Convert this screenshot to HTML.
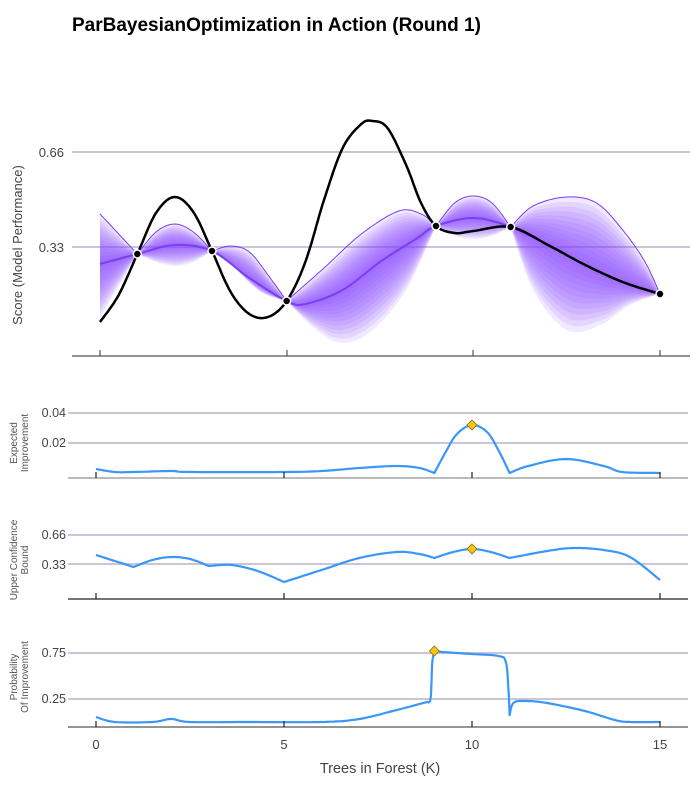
<!DOCTYPE html>
<html><head><meta charset="utf-8"><style>
body{margin:0;background:#fff;}
svg{display:block;font-family:"Liberation Sans",sans-serif;}
</style></head><body>
<svg id="s" width="700" height="789" viewBox="0 0 700 789" xmlns="http://www.w3.org/2000/svg">
<text x="72" y="31" font-size="19" font-weight="bold" fill="#000">ParBayesianOptimization in Action (Round 1)</text>
<line x1="72" x2="690" y1="152" y2="152" stroke="#c8c6d8" stroke-width="2"/>
<line x1="72" x2="690" y1="247" y2="247" stroke="#c8c6d8" stroke-width="2"/>
<text x="64" y="157" font-size="13" fill="#444" text-anchor="end">0.66</text>
<text x="64" y="252" font-size="13" fill="#444" text-anchor="end">0.33</text>
<text transform="translate(22,245) rotate(-90)" font-size="13" fill="#444" text-anchor="middle">Score (Model Performance)</text>
<g id="topg"></g>
<line x1="72" x2="690" y1="356" y2="356" stroke="#555" stroke-width="1.2"/>
<line x1="100" x2="100" y1="350" y2="356" stroke="#333"/>
<line x1="287" x2="287" y1="350" y2="356" stroke="#333"/>
<line x1="473" x2="473" y1="350" y2="356" stroke="#333"/>
<line x1="660" x2="660" y1="350" y2="356" stroke="#333"/>
<line x1="68" x2="688" y1="413" y2="413" stroke="#c8c6d8" stroke-width="2"/>
<line x1="68" x2="688" y1="443" y2="443" stroke="#c8c6d8" stroke-width="2"/>
<line x1="68" x2="688" y1="478" y2="478" stroke="#bbb" stroke-width="2"/>
<text x="66" y="417" font-size="12.5" fill="#444" text-anchor="end">0.04</text>
<text x="66" y="447" font-size="12.5" fill="#444" text-anchor="end">0.02</text>
<text transform="translate(17,443) rotate(-90)" font-size="10" fill="#555" text-anchor="middle">Expected</text>
<text transform="translate(28,443) rotate(-90)" font-size="10" fill="#555" text-anchor="middle">Improvement</text>
<line x1="68" x2="688" y1="535" y2="535" stroke="#c8c6d8" stroke-width="2"/>
<line x1="68" x2="688" y1="564" y2="564" stroke="#c8c6d8" stroke-width="2"/>
<line x1="68" x2="688" y1="599" y2="599" stroke="#222" stroke-width="1.2"/>
<text x="66" y="539" font-size="12.5" fill="#444" text-anchor="end">0.66</text>
<text x="66" y="569" font-size="12.5" fill="#444" text-anchor="end">0.33</text>
<text transform="translate(17,560) rotate(-90)" font-size="10" fill="#555" text-anchor="middle">Upper Confidence</text>
<text transform="translate(28,560) rotate(-90)" font-size="10" fill="#555" text-anchor="middle">Bound</text>
<line x1="68" x2="688" y1="653" y2="653" stroke="#c8c6d8" stroke-width="2"/>
<line x1="68" x2="688" y1="699" y2="699" stroke="#c8c6d8" stroke-width="2"/>
<line x1="68" x2="688" y1="727" y2="727" stroke="#555" stroke-width="1.2"/>
<text x="66" y="657" font-size="12.5" fill="#444" text-anchor="end">0.75</text>
<text x="66" y="703" font-size="12.5" fill="#444" text-anchor="end">0.25</text>
<text transform="translate(17,677) rotate(-90)" font-size="10" fill="#555" text-anchor="middle">Probability</text>
<text transform="translate(28,677) rotate(-90)" font-size="10" fill="#555" text-anchor="middle">Of Improvement</text>
<g id="botg"></g>
<text x="96" y="749" font-size="13" fill="#444" text-anchor="middle">0</text>
<text x="284" y="749" font-size="13" fill="#444" text-anchor="middle">5</text>
<text x="472" y="749" font-size="13" fill="#444" text-anchor="middle">10</text>
<text x="660" y="749" font-size="13" fill="#444" text-anchor="middle">15</text>
<text x="380" y="773" font-size="14.5" fill="#444" text-anchor="middle">Trees in Forest (K)</text>
</svg>
<script>
(function(){
var NS="http://www.w3.org/2000/svg";
function cr(pts,n){n=n||12;var out=[];for(var i=0;i<pts.length-1;i++){var p0=pts[i-1]||pts[i],p1=pts[i],p2=pts[i+1],p3=pts[i+2]||pts[i+1];for(var k=0;k<n;k++){var t=k/n,t2=t*t,t3=t2*t;var f=function(a,b,c,d){return 0.5*((2*b)+(-a+c)*t+(2*a-5*b+4*c-d)*t2+(-a+3*b-3*c+d)*t3)};out.push([f(p0[0],p1[0],p2[0],p3[0]),f(p0[1],p1[1],p2[1],p3[1])]);}}out.push(pts[pts.length-1]);return out;}
function crs(segs){var out=[];segs.forEach(function(s){var c=cr(s);if(out.length)c.shift();out=out.concat(c);});return out;}
function interp(arr,x){for(var i=0;i<arr.length-1;i++){if(x>=arr[i][0]&&x<=arr[i+1][0]){var t=(x-arr[i][0])/((arr[i+1][0]-arr[i][0])||1);return arr[i][1]+t*(arr[i+1][1]-arr[i][1]);}}return arr[arr.length-1][1];}
function el(tag,attrs,parent){var e=document.createElementNS(NS,tag);for(var k in attrs)e.setAttribute(k,attrs[k]);parent.appendChild(e);return e;}
function d(pts){return "M"+pts.map(function(p){return p[0].toFixed(1)+","+p[1].toFixed(1)}).join("L");}
var X=function(v){return 100+v*37.333};
function px(a){return a.map(function(p){return [X(p[0]),p[1]]});}
var mean=cr(px([[0,264],[1,254],[2,245],[3,251],[4,278],[5,301],[5.5,304],[6.5,290],[7.5,262],[8.5,238],[9,226],[10,218],[11,227],[12,245],[13,265],[14,282],[15,294]]));
var up=crs([px([[0,214],[1,254]]),px([[1,254],[1.5,232],[2,224],[2.5,232],[3,251]]),px([[3,251],[3.5,246],[4,252],[4.5,275],[5,301]]),px([[5,301],[6,268],[7,234],[8,211],[8.6,214],[9,226]]),px([[9,226],[9.5,203],[10,196],[10.5,203],[11,227]]),px([[11,227],[11.6,206],[12.5,197],[13.3,203],[14,230],[14.6,262],[15,294]])]);
var lo=crs([px([[0,318],[1,254]]),px([[1,254],[1.5,262],[2,266],[2.5,262],[3,251]]),px([[3,251],[3.6,268],[4.3,292],[5,301]]),px([[5,301],[5.8,330],[6.5,343],[7.3,330],[8.2,290],[9,226]]),px([[9,226],[9.5,236],[10,239],[10.5,236],[11,227]]),px([[11,227],[11.6,290],[12.5,330],[13.4,325],[14.2,305],[15,294]])]);
var topG=document.getElementById("topg");
var xs=[];for(var x=100;x<=660;x+=1)xs.push(x);
var M=xs.map(function(x){return interp(mean,x)}),U=xs.map(function(x){return interp(up,x)}),L=xs.map(function(x){return interp(lo,x)});
for(var j=12;j>=1;j--){var f=j/12;var a=[],b=[];for(var i=0;i<xs.length;i++){a.push([xs[i],M[i]+(U[i]-M[i])*f]);b.push([xs[i],M[i]+(L[i]-M[i])*f]);}
el("path",{d:d(a.concat(b.reverse()))+"Z",fill:"#8a4dff","fill-opacity":0.12},topG);}
el("path",{d:d(up),fill:"none",stroke:"#7a3cf0","stroke-width":1},topG);
el("path",{d:d(mean),fill:"none",stroke:"#7b3ff2","stroke-width":2},topG);
var blk=cr(px([[0,322],[0.5,295],[1,254],[1.5,213],[2,197],[2.5,212],[3,251],[3.5,292],[4,314],[4.5,317],[5,301],[5.5,262],[6,200],[6.5,148],[7,124],[7.3,121],[7.7,128],[8.2,165],[8.6,203],[9,226],[9.5,233],[10,231],[11,227],[12,245],[13,265],[14,282],[15,294]]));
el("path",{d:d(blk),fill:"none",stroke:"#000","stroke-width":2.5},topG);
[[1,254],[3,251],[5,301],[9,226],[11,227],[15,294]].forEach(function(p){el("circle",{cx:X(p[0]),cy:p[1],r:4,fill:"#000",stroke:"#fff","stroke-width":1.5},topG);});
var bot=document.getElementById("botg");
var XB=function(v){return 96+v*37.6};
function pb(a){return a.map(function(p){return [XB(p[0]),p[1]]});}
var ei=crs([pb([[0,469],[0.5,472],[1,472],[2,471],[2.5,472],[5,472],[6,471],[7,468],[8,466],[8.6,468],[9,473]]),pb([[9,473],[9.3,452],[9.6,434],[10,425],[10.4,432],[10.7,450],[11,473]]),pb([[11,473],[11.5,466],[12.5,459],[13.5,466],[14,472],[15,473]])]);
el("path",{d:d(ei),fill:"none",stroke:"#3a96f7","stroke-width":2.2},bot);
var ucb=crs([pb([[0,555],[1,567]]),pb([[1,567],[1.5,560],[2,557],[2.5,559],[3,566]]),pb([[3,566],[3.6,565],[4.3,571],[5,582]]),pb([[5,582],[6,570],[7,558],[8,552],[8.6,554],[9,558]]),pb([[9,558],[9.5,552],[10,549],[10.5,552],[11,558]]),pb([[11,558],[12,551],[12.7,548],[13.5,550],[14.2,557],[15,580]])]);
el("path",{d:d(ucb),fill:"none",stroke:"#3a96f7","stroke-width":2.2,"stroke-linejoin":"round"},bot);
var pi=crs([pb([[0,717],[0.5,722],[1.5,722],[2,719],[2.5,722],[4,722],[6,722],[7,719],[8,710],[8.8,702]]),pb([[8.8,702],[8.9,698],[8.95,660],[9.05,652],[9.2,652]]),pb([[9.2,652],[10,654],[10.7,656],[10.9,662],[10.97,690],[11,715]]),pb([[11,715],[11.1,703],[11.4,701],[12,703],[13,711],[13.8,720],[14.2,722],[15,722]])]);
el("path",{d:d(pi),fill:"none",stroke:"#3a96f7","stroke-width":2.2,"stroke-linejoin":"round"},bot);
function dia(x,y){el("path",{d:"M"+x+","+(y-5)+"L"+(x+5)+","+y+"L"+x+","+(y+5)+"L"+(x-5)+","+y+"Z",fill:"#f5c518",stroke:"#8a6d00","stroke-width":0.8},bot);}
dia(XB(10),425);dia(XB(10),549);dia(XB(9),651);
[478,599,727].forEach(function(r){[0,5,10,15].forEach(function(v){el("line",{x1:XB(v),x2:XB(v),y1:r-6,y2:r,stroke:"#222","stroke-width":1.2},bot);});});
})();
</script>
</body></html>
